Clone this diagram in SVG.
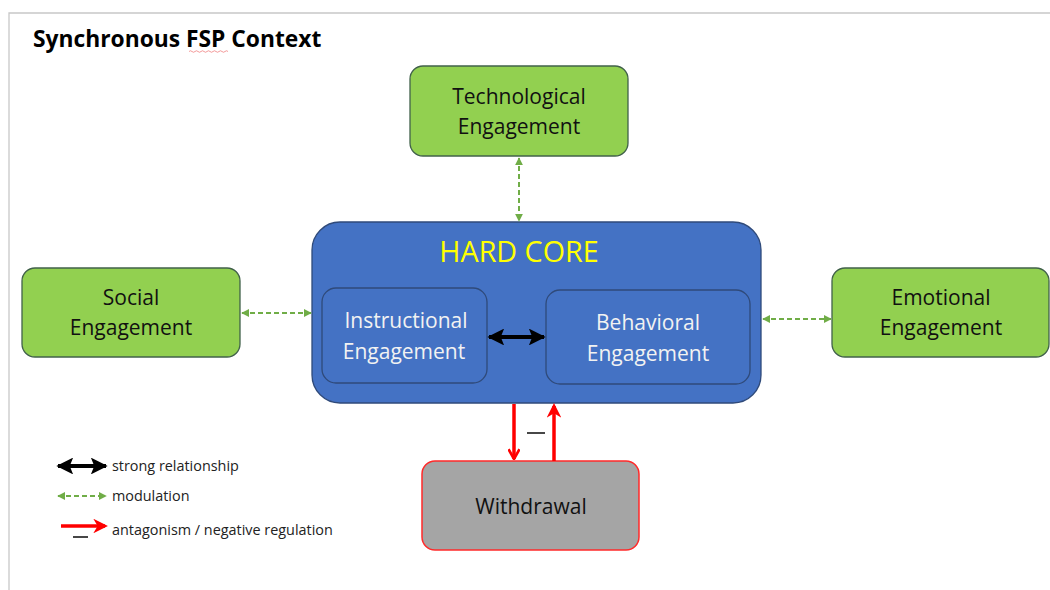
<svg xmlns="http://www.w3.org/2000/svg" width="1050" height="590" viewBox="0 0 1050 590">
<style>
  .t{font-family:"Open Sans","Liberation Sans",sans-serif;text-anchor:middle}
  .green{fill:#92d050;stroke:#41614a;stroke-width:1.3}
  .blue{fill:#4472c4;stroke:#2f4a7a;stroke-width:1.3}
  .dark{fill:#111;font-size:21px}
  .white{fill:#f2f2f2;font-size:21px}
  .mod{stroke:#70ad47;stroke-width:2;stroke-dasharray:5 3;fill:none}
  .red{stroke:#ff0000;stroke-width:3.5;fill:none}
  .leg{font-family:"Open Sans","Liberation Sans",sans-serif;font-size:14.4px;fill:#222}
</style>
<defs>
  <marker id="gA" viewBox="0 0 10 10" refX="9" refY="5" markerWidth="4" markerHeight="4" orient="auto-start-reverse"><path d="M0,0 L10,5 L0,10 z" fill="#70ad47"/></marker>
  <marker id="rA" viewBox="0 0 10 10" refX="8" refY="5" markerWidth="4.2" markerHeight="4.2" orient="auto"><path d="M0,0 L10,5 L0,10 L3,5 z" fill="#ff0000"/></marker>
  <marker id="rV" viewBox="0 0 10 10" refX="9" refY="5" markerWidth="3.5" markerHeight="3.5" orient="auto"><path d="M1,0.5 L9,5 L1,9.5" fill="none" stroke="#ff0000" stroke-width="2.2"/></marker>
  <marker id="bA" viewBox="0 0 10 10" refX="9" refY="5" markerWidth="4.2" markerHeight="4.2" orient="auto-start-reverse"><path d="M0,0 L10,5 L0,10 L2,5 z" fill="#000"/></marker>
</defs>
<rect width="1050" height="590" fill="#fff"/>
<path d="M9,590 V13 H1050" fill="none" stroke="#c8c8c8" stroke-width="1.3"/>
<text x="33" y="47" style="font-family:'Open Sans','Liberation Sans',sans-serif;font-size:22.8px;font-weight:bold" fill="#000">Synchronous FSP Context</text>
<path d="M189,51.5 q1.5,-1.5 3,0 t3,0 t3,0 t3,0 t3,0 t3,0 t3,0 t3,0 t3,0 t3,0 t3,0 t3,0 t3,0" fill="none" stroke="#f08080" stroke-width="0.8"/>

<g id="technological">
  <rect class="green" x="410" y="66" width="218" height="90" rx="13"/>
  <text class="t dark" x="519" y="104">Technological</text>
  <text class="t dark" x="519" y="134">Engagement</text>
</g>
<g id="hardcore">
  <rect class="blue" x="312" y="222" width="449" height="181" rx="28"/>
  <text class="t" x="519" y="262" style="font-size:28.7px" fill="#ffff00">HARD CORE</text>
</g>
<g id="instructional">
  <rect class="blue" x="322" y="288" width="165" height="95" rx="14" stroke="#263e6b"/>
  <text class="t white" x="406" y="328">Instructional</text>
  <text class="t white" x="404" y="359">Engagement</text>
</g>
<g id="behavioral">
  <rect class="blue" x="546" y="290" width="204" height="94" rx="14" stroke="#263e6b"/>
  <text class="t white" x="648" y="330">Behavioral</text>
  <text class="t white" x="648" y="361">Engagement</text>
</g>
<g id="social">
  <rect class="green" x="22" y="268" width="218" height="89" rx="13"/>
  <text class="t dark" x="131" y="305">Social</text>
  <text class="t dark" x="131" y="335">Engagement</text>
</g>
<g id="emotional">
  <rect class="green" x="832" y="268" width="217" height="89" rx="13"/>
  <text class="t dark" x="941" y="305">Emotional</text>
  <text class="t dark" x="941" y="335">Engagement</text>
</g>
<g id="withdrawal">
  <rect x="422" y="461" width="217" height="89" rx="13" fill="#a5a5a5" stroke="#ff2a2a" stroke-width="1.5"/>
  <text class="t dark" x="531" y="514">Withdrawal</text>
</g>

<g id="connectors">
  <line class="mod" x1="519" y1="158" x2="519" y2="221" marker-start="url(#gA)" marker-end="url(#gA)"/>
  <line class="mod" x1="242" y1="313" x2="311" y2="313" marker-start="url(#gA)" marker-end="url(#gA)"/>
  <line class="mod" x1="763" y1="319" x2="831" y2="319" marker-start="url(#gA)" marker-end="url(#gA)"/>
  <line x1="489" y1="337" x2="544" y2="337" stroke="#000" stroke-width="4" marker-start="url(#bA)" marker-end="url(#bA)"/>
  <line class="red" x1="514" y1="404" x2="514" y2="459" marker-end="url(#rV)"/>
  <line class="red" x1="554" y1="461" x2="554" y2="406" marker-end="url(#rA)"/>
  <line x1="527" y1="433" x2="545" y2="433" stroke="#333" stroke-width="1.8"/>
</g>

<g id="legend">
  <line x1="58" y1="466" x2="106" y2="466" stroke="#000" stroke-width="4" marker-start="url(#bA)" marker-end="url(#bA)"/>
  <text class="leg" x="112" y="471">strong relationship</text>
  <line class="mod" x1="58" y1="496" x2="106" y2="496" marker-start="url(#gA)" marker-end="url(#gA)"/>
  <text class="leg" x="112" y="501">modulation</text>
  <line class="red" x1="61" y1="526" x2="105" y2="526" marker-end="url(#rA)"/>
  <line x1="73" y1="537" x2="88" y2="537" stroke="#333" stroke-width="1.8"/>
  <text class="leg" x="112" y="535">antagonism / negative regulation</text>
</g>
</svg>
